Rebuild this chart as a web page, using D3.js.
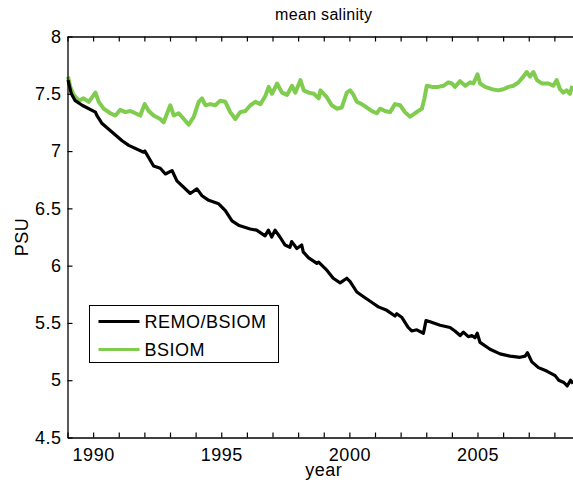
<!DOCTYPE html>
<html>
<head>
<meta charset="utf-8">
<script src="https://cdn.jsdelivr.net/npm/d3@7"></script>
<style>
  body { margin: 0; background: #fff; }
  svg { display: block; font-family: "Liberation Sans", Arial, sans-serif; }
</style>
</head>
<body>
<div id="chart"></div>
<script>
// values: [year, PSU]
const remoBsiom = [
  [1989.02, 7.62], [1989.15, 7.50], [1989.30, 7.44], [1989.57, 7.40], [1990.09, 7.34],
  [1990.15, 7.31], [1990.35, 7.24], [1990.87, 7.14], [1991.13, 7.09], [1991.39, 7.05],
  [1991.97, 6.99], [1992.02, 7.00], [1992.36, 6.87], [1992.62, 6.85], [1992.82, 6.80],
  [1993.08, 6.83], [1993.27, 6.74], [1993.79, 6.63], [1994.05, 6.67], [1994.25, 6.61],
  [1994.51, 6.57], [1994.90, 6.54], [1995.16, 6.48], [1995.42, 6.39], [1995.70, 6.35],
  [1996.13, 6.32], [1996.38, 6.31], [1996.71, 6.26], [1996.84, 6.31], [1996.97, 6.25],
  [1997.10, 6.31], [1997.29, 6.25], [1997.49, 6.18], [1997.68, 6.16], [1997.75, 6.21],
  [1997.95, 6.15], [1998.14, 6.18], [1998.20, 6.12], [1998.40, 6.07], [1998.73, 6.02],
  [1998.80, 6.03], [1999.12, 5.96], [1999.37, 5.89], [1999.64, 5.85], [1999.90, 5.89],
  [2000.03, 5.86], [2000.29, 5.77], [2000.61, 5.72], [2000.94, 5.67], [2001.13, 5.64],
  [2001.46, 5.61], [2001.78, 5.56], [2001.85, 5.58], [2002.04, 5.55], [2002.30, 5.46],
  [2002.43, 5.43], [2002.63, 5.44], [2002.89, 5.41], [2002.99, 5.52], [2003.15, 5.51],
  [2003.54, 5.48], [2003.93, 5.46], [2004.12, 5.43], [2004.32, 5.39], [2004.45, 5.42],
  [2004.64, 5.38], [2004.78, 5.39], [2004.90, 5.37], [2004.99, 5.41], [2005.10, 5.33],
  [2005.49, 5.27], [2005.88, 5.23], [2006.27, 5.21], [2006.66, 5.20], [2006.86, 5.21],
  [2006.95, 5.24], [2007.12, 5.16], [2007.38, 5.11], [2007.70, 5.08], [2008.03, 5.04],
  [2008.17, 5.00], [2008.37, 4.98], [2008.50, 4.95], [2008.63, 5.00], [2008.73, 4.97]
];

const bsiom = [
  [1989.02, 7.65], [1989.11, 7.56], [1989.24, 7.49], [1989.44, 7.44], [1989.63, 7.46],
  [1989.83, 7.43], [1990.09, 7.51], [1990.22, 7.43], [1990.41, 7.37], [1990.67, 7.33],
  [1990.87, 7.31], [1991.06, 7.36], [1991.26, 7.34], [1991.45, 7.35], [1991.65, 7.33],
  [1991.84, 7.31], [1992.01, 7.41], [1992.17, 7.35], [1992.36, 7.31], [1992.62, 7.28],
  [1992.75, 7.25], [1993.01, 7.40], [1993.15, 7.31], [1993.34, 7.33], [1993.54, 7.28],
  [1993.73, 7.23], [1993.93, 7.30], [1994.12, 7.43], [1994.25, 7.46], [1994.38, 7.40],
  [1994.57, 7.41], [1994.77, 7.40], [1994.96, 7.44], [1995.16, 7.43], [1995.35, 7.34],
  [1995.55, 7.28], [1995.74, 7.34], [1995.94, 7.35], [1996.14, 7.40], [1996.33, 7.43],
  [1996.53, 7.41], [1996.72, 7.48], [1996.85, 7.56], [1996.98, 7.50], [1997.18, 7.59],
  [1997.37, 7.51], [1997.57, 7.49], [1997.76, 7.57], [1997.89, 7.51], [1998.09, 7.62],
  [1998.22, 7.53], [1998.41, 7.51], [1998.61, 7.50], [1998.80, 7.46], [1998.87, 7.53],
  [1999.12, 7.47], [1999.31, 7.40], [1999.51, 7.37], [1999.70, 7.38], [1999.90, 7.51],
  [2000.03, 7.53], [2000.16, 7.49], [2000.29, 7.43], [2000.48, 7.41], [2000.68, 7.38],
  [2000.87, 7.35], [2001.07, 7.33], [2001.20, 7.37], [2001.39, 7.35], [2001.59, 7.34],
  [2001.78, 7.41], [2001.98, 7.40], [2002.17, 7.34], [2002.37, 7.30], [2002.56, 7.33],
  [2002.83, 7.37], [2002.93, 7.46], [2003.02, 7.57], [2003.22, 7.56], [2003.47, 7.56],
  [2003.67, 7.57], [2003.86, 7.60], [2004.00, 7.59], [2004.12, 7.56], [2004.32, 7.61],
  [2004.52, 7.57], [2004.71, 7.60], [2004.84, 7.59], [2005.00, 7.67], [2005.10, 7.59],
  [2005.30, 7.56], [2005.56, 7.54], [2005.81, 7.53], [2006.01, 7.54], [2006.21, 7.56],
  [2006.40, 7.57], [2006.60, 7.60], [2006.79, 7.65], [2006.92, 7.69], [2007.05, 7.65],
  [2007.18, 7.69], [2007.32, 7.62], [2007.51, 7.59], [2007.77, 7.59], [2007.96, 7.57],
  [2008.09, 7.62], [2008.22, 7.54], [2008.35, 7.51], [2008.48, 7.53], [2008.61, 7.50],
  [2008.70, 7.57]
];

const yearTicks = d3.range(1989, 2010);
const yearLabels = [1990, 1995, 2000, 2005];
const psuTicks = [4.5, 5, 5.5, 6, 6.5, 7, 7.5, 8];
const seriesNames = ["REMO/BSIOM", "BSIOM"];
const seriesColors = ["#000000", "#7fcc4e"];

const width = 573, height = 486;
const marginL = 67.5, plotRight = 580, plotTop = 36.5, plotBottom = 437.5;

const svg = d3.select("#chart").append("svg")
  .attr("width", width)
  .attr("height", height);

const x = d3.scaleLinear().domain([1989, 2009]).range([marginL, plotRight]);
const y = d3.scaleLinear().domain([4.5, 8]).range([plotBottom, plotTop]);

const line = d3.line()
  .x(d => x(d[0]))
  .y(d => y(d[1]));

// data lines
svg.append("path")
  .datum(bsiom)
  .attr("fill", "none")
  .attr("stroke", seriesColors[1])
  .attr("stroke-width", 4)
  .attr("stroke-linejoin", "round")
  .attr("d", line);

svg.append("path")
  .datum(remoBsiom)
  .attr("fill", "none")
  .attr("stroke", seriesColors[0])
  .attr("stroke-width", 3.2)
  .attr("stroke-linejoin", "round")
  .attr("d", line);

// axes box (matlab style, ticks inside)
const fmtYear = d => yearLabels.includes(d) ? d : "";

svg.append("g")
  .attr("transform", `translate(0,${plotBottom})`)
  .call(d3.axisBottom(x).tickValues(yearTicks).tickFormat(fmtYear).tickSizeInner(-5).tickSizeOuter(0).tickPadding(11))
  .call(g => g.select(".domain").attr("stroke-width", 1.3));

svg.append("g")
  .attr("transform", `translate(0,${plotTop})`)
  .call(d3.axisTop(x).tickValues(yearTicks).tickFormat("").tickSizeInner(-5).tickSizeOuter(0))
  .call(g => g.select(".domain").attr("stroke-width", 1.3));

svg.append("g")
  .attr("transform", `translate(${marginL},0)`)
  .call(d3.axisLeft(y).tickValues(psuTicks).tickFormat(d3.format("")).tickSizeInner(-5).tickSizeOuter(0).tickPadding(6))
  .call(g => g.select(".domain").attr("stroke-width", 1.3));

svg.selectAll(".tick text")
  .attr("font-size", 18)
  .attr("letter-spacing", "0.5px")
  .attr("font-family", "Liberation Sans, Arial, sans-serif")
  .attr("fill", "#000");
svg.selectAll(".tick line").attr("stroke", "#000").attr("stroke-width", 1.2);

// labels
svg.append("text")
  .attr("x", (marginL + plotRight) / 2)
  .attr("y", 20)
  .attr("text-anchor", "middle")
  .attr("font-size", 16)
  .attr("letter-spacing", "0.3px")
  .text("mean salinity");

svg.append("text")
  .attr("x", (marginL + plotRight) / 2)
  .attr("y", 476)
  .attr("text-anchor", "middle")
  .attr("font-size", 18)
  .attr("letter-spacing", "0.5px")
  .text("year");

svg.append("text")
  .attr("transform", `translate(28,${(plotTop + plotBottom) / 2}) rotate(-90)`)
  .attr("text-anchor", "middle")
  .attr("font-size", 18)
  .attr("letter-spacing", "0.5px")
  .text("PSU");

// legend
const legend = svg.append("g").attr("transform", "translate(89.5,305.5)");
legend.append("rect")
  .attr("width", 189)
  .attr("height", 57)
  .attr("fill", "#fff")
  .attr("stroke", "#000")
  .attr("stroke-width", 1);

seriesNames.forEach((name, i) => {
  const ly = 16 + i * 28;
  legend.append("line")
    .attr("x1", 9).attr("x2", 50)
    .attr("y1", ly).attr("y2", ly)
    .attr("stroke", seriesColors[i])
    .attr("stroke-width", 3);
  legend.append("text")
    .attr("x", 55)
    .attr("y", ly + 6.5)
    .attr("font-size", 18)
    .attr("letter-spacing", "0.5px")
    .text(name);
});
</script>
</body>
</html>
